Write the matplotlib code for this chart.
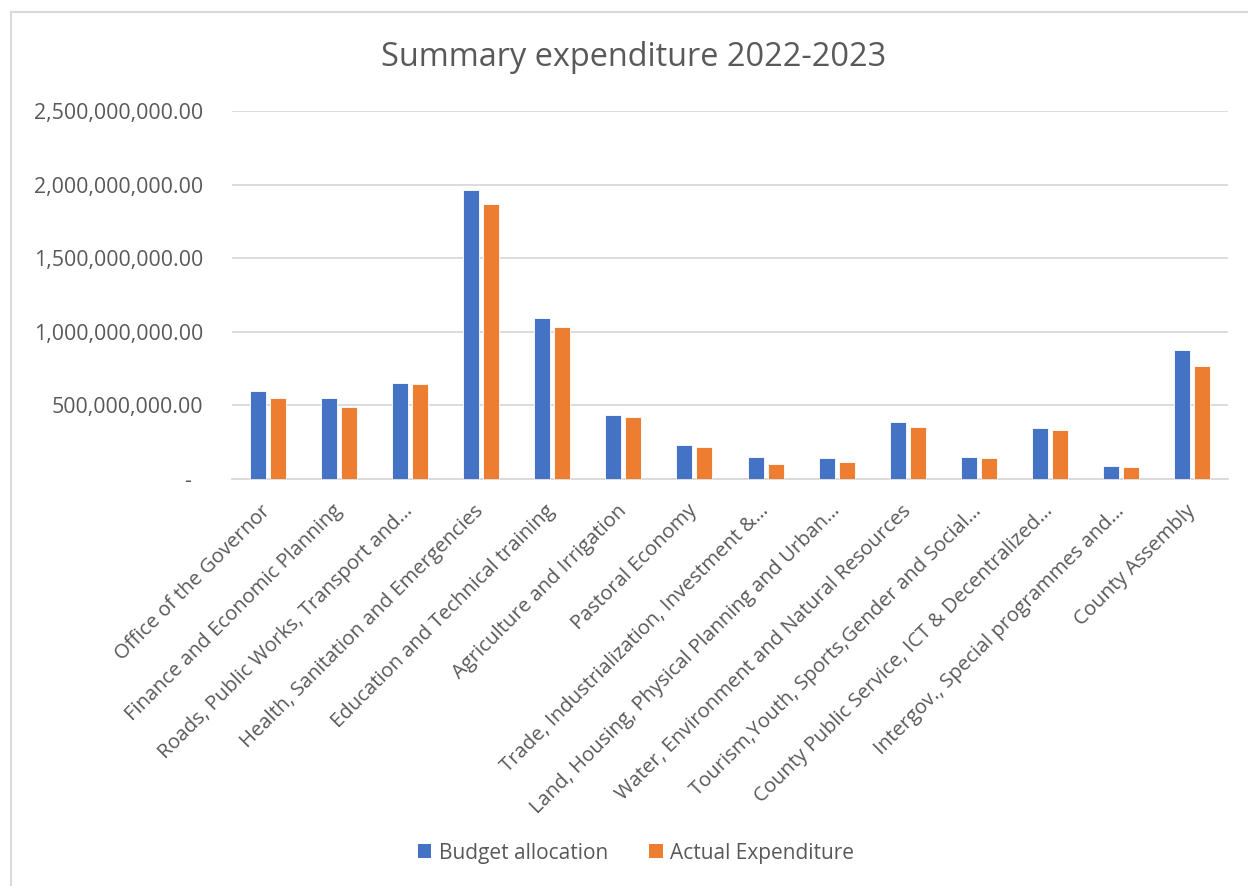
import matplotlib
matplotlib.use("Agg")
import matplotlib.pyplot as plt
from matplotlib.lines import Line2D
from matplotlib.patches import Patch
from matplotlib.ticker import FuncFormatter, MultipleLocator
import numpy as np

departments = [
    "Office of the Governor",
    "Finance and Economic Planning",
    "Roads, Public Works, Transport and\u2026",
    "Health, Sanitation and Emergencies",
    "Education and Technical training",
    "Agriculture and Irrigation",
    "Pastoral Economy",
    "Trade, Industrialization, Investment &\u2026",
    "Land, Housing, Physical Planning and Urban\u2026",
    "Water, Environment and Natural Resources",
    "Tourism,Youth, Sports,Gender and Social\u2026",
    "County Public Service, ICT & Decentralized\u2026",
    "Intergov., Special programmes and\u2026",
    "County Assembly",
]
budget_allocation = [598e6, 552e6, 650e6, 1961e6, 1093e6, 432e6, 230e6,
                     152e6, 145e6, 386e6, 152e6, 345e6, 86e6, 877e6]
actual_expenditure = [548e6, 486e6, 643e6, 1870e6, 1030e6, 418e6, 214e6,
                      105e6, 118e6, 355e6, 143e6, 332e6, 80e6, 766e6]
series_names = ["Budget allocation", "Actual Expenditure"]
title = "Summary expenditure 2022-2023"

BLUE = "#4472C4"
ORANGE = "#ED7D31"
TEXT = "#595959"
GRID = "#D9D9D9"

plt.rcParams["font.family"] = ["Open Sans", "DejaVu Sans"]

W, H = 1248, 886
fig = plt.figure(figsize=(W / 100, H / 100), dpi=100)
fig.patch.set_facecolor("white")

ax = fig.add_axes([232 / W, 1 - 479 / H, (1228 - 232) / W, (479 - 111) / H])

x = np.arange(len(departments))
bw = 0.225
off = 0.14
ax.bar(x - off, budget_allocation, bw, color=BLUE, edgecolor="white",
       linewidth=0.6, zorder=3)
ax.bar(x + off, actual_expenditure, bw, color=ORANGE, edgecolor="white",
       linewidth=0.6, zorder=3)

ax.set_xlim(-0.5, len(departments) - 0.5)
ax.set_ylim(0, 2.5e9)
ax.yaxis.set_major_locator(MultipleLocator(5e8))


def money(v, pos):
    if abs(v) < 1:
        return "-  "
    return f"{v:,.2f}"


ax.yaxis.set_major_formatter(FuncFormatter(money))
ax.grid(axis="y", color=GRID, linewidth=1.3, zorder=0)
for s in ["top", "right", "left"]:
    ax.spines[s].set_visible(False)
ax.spines["bottom"].set_color(GRID)
ax.spines["bottom"].set_linewidth(1.3)
ax.tick_params(axis="y", length=0, pad=21, labelsize=15.4, labelcolor=TEXT)
ax.tick_params(axis="x", length=0, pad=21, labelsize=14.6, labelcolor=TEXT)

ax.set_xticks(x)
ax.set_xticklabels(departments, rotation=45, ha="right", va="center",
                   rotation_mode="anchor")
for lbl in ax.get_xticklabels():
    lbl.set_x(lbl.get_position()[0])

fig.text(634 / W, 1 - 58 / H, title, ha="center", va="center",
         fontsize=23.4, color=TEXT)

handles = [Patch(facecolor=BLUE, edgecolor="none"),
           Patch(facecolor=ORANGE, edgecolor="none")]
fig.legend(handles, series_names, loc="center", ncol=2,
           bbox_to_anchor=(636 / W, 1 - 853 / H), frameon=False,
           fontsize=15, labelcolor=TEXT, handlelength=0.65, handleheight=0.65,
           handletextpad=0.35, columnspacing=2.0)

# chart frame
fig.add_artist(Line2D([11 / W, 11 / W], [0, 1 - 12 / H], color=GRID,
                      linewidth=1.5, transform=fig.transFigure))
fig.add_artist(Line2D([11 / W, 1], [1 - 12 / H, 1 - 12 / H], color=GRID,
                      linewidth=1.5, transform=fig.transFigure))

fig.savefig("out.png", dpi=100)
